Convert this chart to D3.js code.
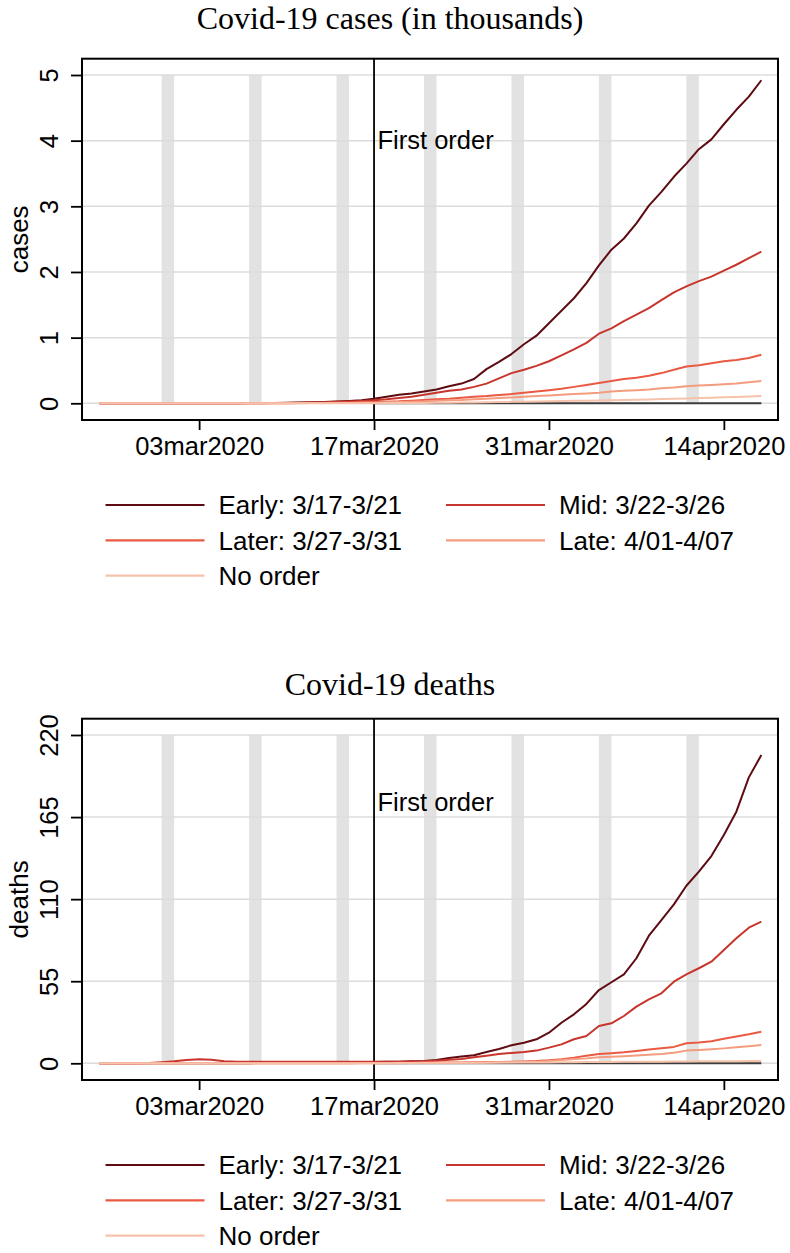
<!DOCTYPE html>
<html>
<head>
<meta charset="utf-8">
<script src="https://cdn.jsdelivr.net/npm/d3@7"></script>
<style>
  body { margin: 0; background: #fff; }
  text { font-family: "Liberation Sans", Arial, sans-serif; fill: #000; }
  .title { font-family: "Liberation Serif", "Times New Roman", serif; }
</style>
</head>
<body>
<div id="chart"></div>
<script>
// ---- data (cumulative, Feb 24 - Apr 17 2020, one value per day) ----
const firstDay = "2020-02-24"
const lastDay = "2020-04-17"
const groups = ["Early: 3/17-3/21", "Mid: 3/22-3/26", "Later: 3/27-3/31", "Late: 4/01-4/07", "No order"]

const casesEarly = [0,0,0,0,0,0,0,0,
  0,0,0.001,0.002,0.003,0.004,0.006,0.008,0.011,0.015,0.02,0.026,0.034,0.045,
  0.07,0.10,0.13,0.15,0.18,0.21,0.26,0.30,0.37,0.52,0.63,0.75,0.90,1.03,1.22,
  1.41,1.60,1.83,2.10,2.34,2.51,2.74,3.01,3.22,3.45,3.65,3.87,4.02,4.25,4.47,4.67,4.92]
const casesMid = [0,0,0,0,0,0,0,0,
  0,0,0,0,0.001,0.002,0.003,0.005,0.008,0.012,0.017,0.022,0.028,0.035,
  0.045,0.06,0.08,0.10,0.13,0.16,0.19,0.21,0.25,0.30,0.38,0.46,0.51,0.57,0.64,
  0.73,0.82,0.92,1.06,1.14,1.25,1.35,1.45,1.57,1.69,1.78,1.86,1.93,2.02,2.11,2.21,2.31]
const casesLater = [0,0,0,0,0,0,0,0,
  0,0,0,0,0,0.001,0.001,0.002,0.003,0.004,0.006,0.009,0.012,0.016,
  0.02,0.025,0.03,0.04,0.05,0.06,0.07,0.085,0.10,0.11,0.125,0.14,0.16,0.18,0.20,
  0.22,0.25,0.28,0.31,0.34,0.37,0.39,0.42,0.46,0.51,0.56,0.58,0.61,0.64,0.66,0.69,0.74]
const casesLate = [0,0,0,0,0,0,0,0,
  0,0,0,0,0,0,0.001,0.001,0.002,0.003,0.004,0.005,0.006,0.008,
  0.01,0.015,0.02,0.025,0.03,0.04,0.045,0.05,0.06,0.07,0.08,0.09,0.10,0.11,0.12,
  0.13,0.14,0.15,0.16,0.18,0.19,0.20,0.21,0.23,0.24,0.26,0.27,0.28,0.29,0.30,0.32,0.34]
const casesNoOrder = [0,0,0,0,0,0,0,0,
  0,0,0,0,0,0,0,0,0.001,0.001,0.001,0.001,0.002,0.002,
  0.002,0.003,0.004,0.005,0.006,0.008,0.01,0.012,0.014,0.016,0.019,0.022,0.025,0.028,0.031,
  0.034,0.037,0.04,0.043,0.047,0.051,0.055,0.059,0.064,0.069,0.074,0.079,0.085,0.091,0.097,0.103,0.11]

const deathsEarly = [0,0,0,0,0,0,0,0,
  0,0,0,0.1,0.1,0.2,0.2,0.3,0.3,0.4,0.5,0.6,0.7,0.8,
  0.9,1.0,1.1,1.3,1.6,2.2,3.6,4.5,5.4,7.6,9.6,12.1,13.8,16.1,20.5,
  27.2,32.8,39.8,49.1,54.3,59.6,70.4,85.5,96.0,106.5,119,128.4,138.9,153,168.6,191.6,206.6]
const deathsMid = [0,0,0,0,0.2,0.7,1.3,2.2,
  2.7,2.4,1.3,1.0,1.0,1.0,1.0,1.0,1.0,1.0,1.0,1.0,1.0,1.0,
  1.0,1.0,1.1,1.2,1.3,1.7,2.3,2.9,4.0,5.1,6.3,6.9,7.6,8.5,10.5,
  12.7,16.1,18.3,25.0,26.8,31.7,38.0,42.9,46.9,54.7,59.6,63.7,68.1,75.9,83.8,90.9,94.9]
const deathsLater = [0,0,0,0,0,0,0,0,
  0,0,0,0,0,0,0,0,0.1,0.1,0.1,0.1,0.1,0.2,
  0.2,0.2,0.3,0.3,0.4,0.5,0.5,0.6,0.7,0.8,0.9,1.0,1.2,1.5,2.0,
  2.8,3.8,5.0,6.2,6.8,7.4,8.3,9.2,10.1,11.0,13.4,14.0,14.8,16.5,18.0,19.5,21.2]
const deathsLate = [0,0,0,0,0,0,0,0,
  0,0,0,0,0,0,0,0,0,0,0,0.1,0.1,0.1,
  0.1,0.1,0.1,0.2,0.2,0.2,0.3,0.3,0.4,0.5,0.6,0.7,0.9,1.1,1.5,
  2.2,2.8,3.3,4.0,4.4,4.8,5.3,5.8,6.3,7.1,8.5,8.9,9.4,10.0,10.7,11.5,12.3]
const deathsNoOrder = [0,0,0,0,0,0,0,0,
  0,0,0,0,0,0,0,0,0,0,0,0,0,0,
  0.1,0.1,0.2,0.2,0.3,0.3,0.3,0.4,0.4,0.4,0.5,0.5,0.5,0.6,0.6,
  0.7,0.7,0.8,0.9,0.9,1.0,1.0,1.1,1.1,1.2,1.2,1.3,1.3,1.4,1.4,1.5,1.6]

// dark zero line from the first order onwards
const zeroLineStart = "2020-03-17"

// weekend shading (Saturdays) and x ticks
const weekends = ["2020-02-29","2020-03-07","2020-03-14","2020-03-21","2020-03-28","2020-04-04","2020-04-11"]
const xTicks = ["2020-03-03","2020-03-17","2020-03-31","2020-04-14"]
const firstOrder = "2020-03-17"

const casesTicks = [0,1,2,3,4,5]
const deathsTicks = [0,55,110,165,220];

(function () {

  const colors = ["#5e0b12","#c8352c","#ea5a43","#f49c7e","#f7c2ab"]
  const zeroColor = "#3c3c3c"

  const box = { left: 82, right: 778, top: 58.7, bottom: 420 }
  const yPix = [403.3, 75]

  const parse = d3.utcParse("%Y-%m-%d")
  const fmt = d3.utcFormat("%d%b%Y")
  const dates = d3.utcDay.range(parse(firstDay), d3.utcDay.offset(parse(lastDay), 1))

  const svg = d3.select("#chart").append("svg")
      .attr("width", 790)
      .attr("height", 1253)

  const xScale = d3.scaleUtc()
    .domain([new Date(Date.UTC(2020,1,22,15)), new Date(Date.UTC(2020,3,18,8))])
    .range([box.left, box.right])

  function panel(offset, opts) {
    const g = svg.append("g").attr("transform", "translate(0," + offset + ")")
    const y = d3.scaleLinear().domain([0, opts.ticks[opts.ticks.length - 1]]).range(yPix)

    // title
    g.append("text").attr("class", "title")
      .attr("x", 390).attr("y", opts.titleY)
      .attr("text-anchor", "middle")
      .style("font-size", "32px")
      .text(opts.title)

    // weekend bars
    g.selectAll("rect.wk")
      .data(weekends)
      .join("rect")
      .attr("class", "wk")
      .attr("x", d => xScale(parse(d)))
      .attr("width", d => xScale(d3.utcDay.offset(parse(d), 1)) - xScale(parse(d)))
      .attr("y", y.range()[1])
      .attr("height", y.range()[0] - y.range()[1])
      .attr("fill", "#e2e2e2")

    // horizontal grid
    g.selectAll("line.grid")
      .data(opts.ticks)
      .join("line")
      .attr("class", "grid")
      .attr("x1", box.left).attr("x2", box.right)
      .attr("y1", d => y(d)).attr("y2", d => y(d))
      .attr("stroke", "#dcdcdc")
      .attr("stroke-width", 1.5)

    // first order line
    g.append("line")
      .attr("x1", xScale(parse(firstOrder))).attr("x2", xScale(parse(firstOrder)))
      .attr("y1", box.top).attr("y2", box.bottom)
      .attr("stroke", "#000").attr("stroke-width", 1.8)

    const line = d3.line()
      .x(d => xScale(d[0]))
      .y(d => y(d[1]))

    // zero line
    const zStart = parse(zeroLineStart)
    g.append("path")
      .datum(dates.filter(d => d >= zStart).map(d => [d, 0]))
      .attr("d", line)
      .attr("fill", "none")
      .attr("stroke", zeroColor)
      .attr("stroke-width", 2)

    g.selectAll("path.series")
      .data(opts.series)
      .join("path")
      .attr("class", "series")
      .attr("d", s => line(s.map((v, i) => [dates[i], v])))
      .attr("fill", "none")
      .attr("stroke", (s, i) => colors[i])
      .attr("stroke-width", 2)
      .attr("stroke-linejoin", "round")

    g.append("text")
      .attr("x", xScale(parse(firstOrder)) + 3.5)
      .attr("y", y(opts.labelAt))
      .style("font-size", "25.5px")
      .text("First order")

    // axes
    const xAxis = g.append("g")
      .attr("transform", "translate(0," + box.bottom + ")")
      .call(d3.axisBottom(xScale)
        .tickValues(xTicks.map(parse))
        .tickFormat(d => fmt(d).toLowerCase())
        .tickSize(10)
        .tickPadding(7))
    xAxis.select(".domain").remove()
    xAxis.selectAll("line").attr("stroke-width", 1.8)
    xAxis.selectAll("text").style("font-size", "25.5px").attr("font-family", null)

    const yAxis = g.append("g")
      .attr("transform", "translate(" + box.left + ",0)")
      .call(d3.axisLeft(y).tickValues(opts.ticks).tickFormat(d3.format("d")).tickSize(11))
    yAxis.select(".domain").remove()
    yAxis.selectAll("line").attr("stroke-width", 1.8)
    yAxis.selectAll("text")
      .attr("transform", "rotate(-90)")
      .attr("x", 0).attr("y", -24).attr("dy", 0)
      .attr("text-anchor", "middle")
      .style("font-size", "25.5px")

    g.append("text")
      .attr("transform", "translate(28," + ((box.top + box.bottom) / 2) + ") rotate(-90)")
      .attr("text-anchor", "middle")
      .style("font-size", "26px")
      .text(opts.yTitle)

    // frame
    g.append("rect")
      .attr("x", box.left).attr("y", box.top)
      .attr("width", box.right - box.left).attr("height", box.bottom - box.top)
      .attr("fill", "none").attr("stroke", "#000").attr("stroke-width", 2)

    // legend
    const leg = g.selectAll("g.leg")
      .data(groups)
      .join("g")
      .attr("class", "leg")
      .attr("transform", (d, i) => "translate(" + [105.5, 446][i % 2] + "," + (505 + Math.floor(i / 2) * 35.3) + ")")
    leg.append("line")
      .attr("x1", 0).attr("x2", 99)
      .attr("stroke", (d, i) => colors[i])
      .attr("stroke-width", 2.2)
    leg.append("text")
      .attr("x", 113).attr("y", 9.3)
      .style("font-size", "26px")
      .text(d => d)
  }

  panel(0, {
    title: "Covid-19 cases (in thousands)", titleY: 29,
    ticks: casesTicks, yTitle: "cases", labelAt: 3.87,
    series: [casesEarly, casesMid, casesLater, casesLate, casesNoOrder]
  })
  panel(660, {
    title: "Covid-19 deaths", titleY: 34.5,
    ticks: deathsTicks, yTitle: "deaths", labelAt: 169.2,
    series: [deathsEarly, deathsMid, deathsLater, deathsLate, deathsNoOrder]
  })

})();
</script>
</body>
</html>
